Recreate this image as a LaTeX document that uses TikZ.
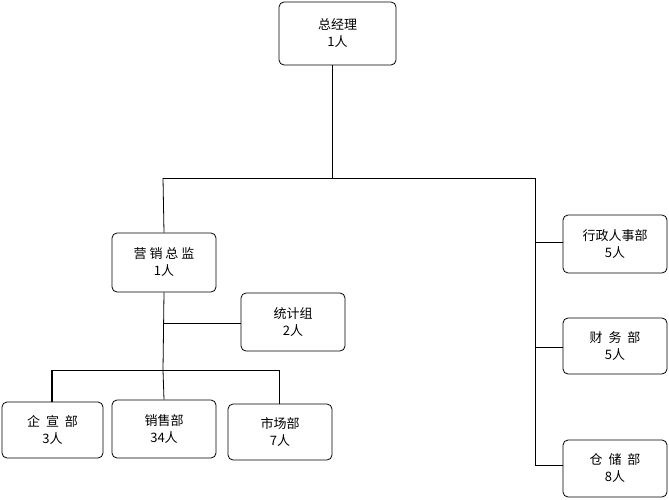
\documentclass[tikz,border=0pt]{standalone}
\usepackage{fontspec}
\newfontfamily\cjk{Noto Sans CJK SC}
\begin{document}
\begin{tikzpicture}[x=1pt,y=-1pt,
 box/.style={draw,rounded corners=5pt,line width=0.8pt,align=center,font=\cjk\fontsize{13}{17}\selectfont,inner sep=0pt},
 ln/.style={line width=0.8pt}]
\useasboundingbox (0,0) rectangle (669,500);
\newcommand\bx[6]{\node[box,minimum width=#4-#2,minimum height=#5-#3] (#1) at ({(#2+#4)/2},{(#3+#5)/2}) {#6};}
\bx{gm}{279}{2}{396}{65}{总经理\\1人}
\bx{ys}{112}{233}{216}{292}{营 销 总 监\\1人}
\bx{xz}{563}{215}{667}{273}{行政人事部\\5人}
\bx{cw}{563}{318}{667}{374}{财\ \ 务\ \ 部\\5人}
\bx{cc}{563}{440}{667}{497}{仓\ \ 储\ \ 部\\8人}
\bx{tj}{241}{293}{345}{351}{统计组\\2人}
\bx{qx}{2}{402}{103}{458}{企\ \ 宣\ \ 部\\3人}
\bx{xs}{112}{400}{216}{458}{销售部\\34人}
\bx{sc}{228}{404}{332}{460}{市场部\\7人}
\coordinate (t) at (332,178);
\coordinate (l) at (163,178);
\coordinate (r) at (535,178);
\coordinate (b) at (163,370);
\coordinate (bl) at (52,370);
\coordinate (br) at (279,370);
\draw[ln] (gm.south -| t) -- (t);
\draw[ln] (l) -- (r);
\draw[ln] (l) -- (ys.north);
\draw[ln] (r) -- (535,465);
\draw[ln] (535,242) -- (xz.west |- 0,242);
\draw[ln] (535,347) -- (cw.west |- 0,347);
\draw[ln] (535,465) -- (cc.west |- 0,465);
\draw[ln] (ys.south) -- (b);
\draw[ln] (163,323) -- (tj.west |- 0,323);
\draw[ln] (bl) -- (br);
\draw[line width=1.6pt] (bl) -- (qx.north -| bl);
\draw[ln] (b) -- (xs.north);
\draw[ln] (br) -- (sc.north -| br);
\end{tikzpicture}
\end{document}
